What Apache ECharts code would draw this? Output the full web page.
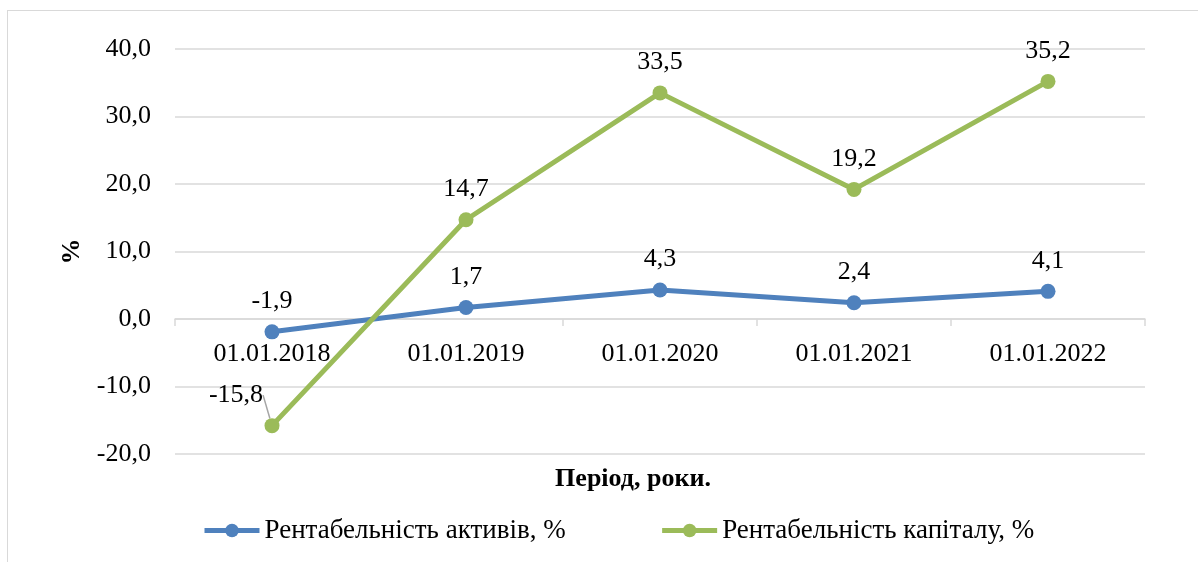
<!DOCTYPE html>
<html>
<head>
<meta charset="utf-8">
<script src="https://cdn.jsdelivr.net/npm/echarts@6/dist/echarts.min.js"></script>
<style>
  html, body { margin: 0; padding: 0; background: #fff; }
  #frame {
    position: absolute; left: 7px; top: 10px; width: 1200px; height: 560px;
    border: 1px solid #d9d9d9; box-sizing: border-box;
  }
  #chart { width: 1198px; height: 562px; position: absolute; left: 0; top: 0; }
</style>
</head>
<body>
<div id="frame"></div>
<div id="chart"></div>
<script>
const categories = ['01.01.2018', '01.01.2019', '01.01.2020', '01.01.2021', '01.01.2022']
const assetsReturn = [-1.9, 1.7, 4.3, 2.4, 4.1]
const equityReturn = [-15.8, 14.7, 33.5, 19.2, 35.2]
const yTicks = { min: -20, max: 40, interval: 10 }

const FONT = '"Liberation Serif", "Times New Roman", serif'
const fmt = v => v.toFixed(1).replace('.', ',')

const chart = echarts.init(document.getElementById('chart'))

const labelBase = {
  show: true,
  position: 'top',
  distance: 10,
  color: '#000',
  fontFamily: FONT,
  fontSize: 26,
  formatter: p => fmt(p.value)
}

const option = {
  animation: false,
  graphic: [{
    type: 'text',
    x: 633,
    y: 479,
    style: {
      text: 'Період, роки.',
      align: 'center',
      verticalAlign: 'middle',
      fill: '#000',
      font: 'bold 26px ' + FONT
    }
  }],
  grid: { left: 175, right: 53, top: 49, bottom: 108, outerBoundsMode: 'none', containLabel: false },
  legend: {
    left: 197,
    top: 512,
    itemWidth: 55,
    itemHeight: 17,
    itemGap: 94,
    textStyle: { fontFamily: FONT, fontSize: 27, color: '#000' },
    data: [
      { name: 'Рентабельність активів, %', lineStyle: { width: 5 } },
      { name: 'Рентабельність капіталу, %', lineStyle: { width: 5 } }
    ]
  },
  xAxis: {
    type: 'category',
    data: categories,
    boundaryGap: true,
    axisLine: { onZero: true, lineStyle: { color: '#d9d9d9', width: 1.5 } },
    axisTick: { show: true, length: 7, lineStyle: { color: '#d9d9d9', width: 1.5 } },
    axisLabel: { margin: -113, fontFamily: FONT, fontSize: 26, color: '#000' }
  },
  yAxis: {
    type: 'value',
    min: yTicks.min,
    max: yTicks.max,
    interval: yTicks.interval,
    name: '%',
    nameLocation: 'middle',
    nameRotate: 90,
    nameGap: 90,
    nameTextStyle: { fontFamily: FONT, fontSize: 26, fontWeight: 'bold', color: '#000' },
    axisLine: { show: false },
    axisTick: { show: false },
    axisLabel: { margin: 24, fontFamily: FONT, fontSize: 26, color: '#000', formatter: fmt },
    splitLine: { lineStyle: { color: '#d9d9d9', width: 1.5 } }
  },
  series: [
    {
      name: 'Рентабельність активів, %',
      type: 'line',
      data: assetsReturn,
      symbol: 'circle',
      symbolSize: 15,
      lineStyle: { color: '#4f81bd', width: 5 },
      itemStyle: { color: '#4f81bd' },
      label: labelBase
    },
    {
      name: 'Рентабельність капіталу, %',
      type: 'line',
      data: equityReturn.map((v, i) => i === 0
        ? { value: v, labelLine: { show: true, lineStyle: { color: '#a6a6a6', width: 1.5 } } }
        : v),
      symbol: 'circle',
      symbolSize: 15,
      lineStyle: { color: '#9bbb59', width: 5 },
      itemStyle: { color: '#9bbb59' },
      label: labelBase,
      labelLayout: p => p.dataIndex === 0 ? { dx: -36, dy: 0 } : {}
    }
  ]
}

chart.setOption(option)
window.addEventListener('resize', () => chart.resize())
</script>
</body>
</html>
